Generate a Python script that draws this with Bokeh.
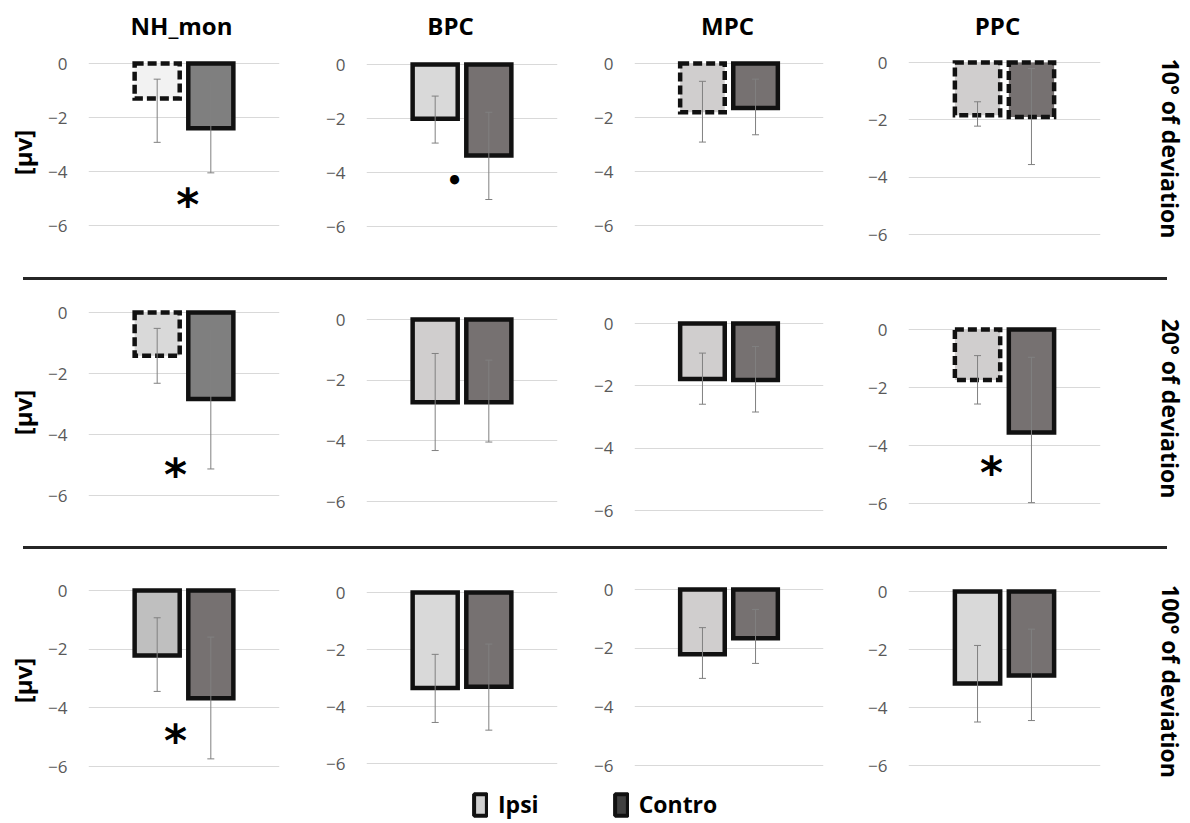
from bokeh.plotting import figure
from bokeh.layouts import column, row
from bokeh.models import Range1d, FixedTicker, Legend, LegendItem, Spacer, Div
from bokeh.core.properties import value
from bokeh.embed import file_html
from bokeh.resources import INLINE

# ---------------- data ----------------
regions = ["NH_mon", "BPC", "MPC", "PPC"]
deviations = ["10° of deviation", "20° of deviation", "100° of deviation"]
series = ["Ipsi", "Contro"]
y_ticks = [0, -2, -4, -6]
unit_label = "[μv]"

# mean amplitude, rows = deviation, columns = region
ipsi_mean = [[-1.30, -2.01, -1.81, -1.84],
             [-1.42, -2.73, -1.78, -1.74],
             [-2.22, -3.35, -2.21, -3.17]]
contro_mean = [[-2.40, -3.37, -1.65, -1.90],
               [-2.84, -2.73, -1.81, -3.55],
               [-3.67, -3.31, -1.66, -2.90]]
# error bar ends
ipsi_err_top = [[-0.58, -1.17, -0.66, -1.37],
                [-0.52, -1.12, -0.95, -0.90],
                [-0.93, -2.17, -1.30, -1.86]]
ipsi_err_bottom = [[-2.92, -2.91, -2.91, -2.22],
                   [-2.32, -4.32, -2.59, -2.57],
                   [-3.44, -4.56, -3.03, -4.50]]
contro_err_top = [[-0.66, -1.77, -0.58, -0.21],
                  [-0.55, -1.34, -0.74, -0.96],
                  [-1.59, -1.81, -0.68, -1.30]]
contro_err_bottom = [[-4.05, -5.00, -2.64, -3.56],
                     [-5.13, -4.04, -2.84, -5.97],
                     [-5.74, -4.83, -2.52, -4.45]]

# significance marks
sig_row = [0, 0, 1, 1, 2]
sig_col = [0, 1, 0, 3, 0]
sig_text = ["*", "•", "*", "*", "*"]
sig_x = [0.57, 0.36, 0.34, 0.26, 0.34]
sig_y = [-4.96, -4.30, -5.07, -4.70, -4.89]

# ---------------- styles ----------------
ipsi_dashed = [[True, False, True, True],
               [True, False, False, True],
               [False, False, False, False]]
contro_dashed = [[False, False, False, True],
                 [False, False, False, False],
                 [False, False, False, False]]
ipsi_fill = [["#f2f2f2", "#d9d9d9", "#d0cece", "#d0cece"],
             ["#d9d9d9", "#d0cece", "#d0cece", "#d0cece"],
             ["#bfbfbf", "#d9d9d9", "#d0cece", "#d9d9d9"]]
contro_fill = [["#7f7f7f", "#767171", "#767171", "#767171"],
               ["#7f7f7f", "#767171", "#767171", "#767171"],
               ["#767171", "#767171", "#767171", "#767171"]]

FONT = "Open Sans"

# ---------------- layout geometry (page pixels) ----------------
TOTAL_W = 1190
TOTAL_H = 821
HEAD_H = 46
ROW_TOP = [46, 280, 549]
ROW_H = [231, 266, 232]
FRAME_T = [52, 304, 581]
FRAME_B = [252, 520, 779]
ZERO_PX = [[63, 64, 63, 62], [312, 319, 323, 329], [590, 592, 589, 591]]
SIX_PX = [[225, 226, 225, 234], [495, 501, 510, 503], [766, 763, 765, 765]]
FIG_X = [0, 300, 585, 855, 1115, 1190]
FRAME_L = [88, 366, 634, 908]
FRAME_W = [191, 191, 189, 192]
TITLE_CX = [181, 450, 727, 997]
TITLE_CY = 25
LABEL_CY = [148, 408, 681]
LABEL_CX = 1170
SEP_X = (23, 1167)
LEGEND_TOP = 781
BAR_W = 0.84
X_RANGE = (-1.28, 2.28)


def row_fig(r, width, left, right, x_range, y_range):
    return figure(width=width, height=ROW_H[r], output_backend="svg",
                  toolbar_location=None, x_range=x_range, y_range=y_range,
                  min_border_left=left, min_border_right=right,
                  min_border_top=FRAME_T[r] - ROW_TOP[r],
                  min_border_bottom=ROW_TOP[r] + ROW_H[r] - FRAME_B[r],
                  outline_line_color=None, background_fill_color="white",
                  border_fill_color="white")


def blank_fig(width, height, x_range, y_range):
    f = figure(width=width, height=height, output_backend="svg",
               toolbar_location=None, x_range=x_range, y_range=y_range,
               min_border=0, outline_line_color=None,
               background_fill_color="white", border_fill_color="white")
    f.axis.visible = False
    f.grid.visible = False
    return f


def panel(r, c):
    k = (SIX_PX[r][c] - ZERO_PX[r][c]) / 6.0
    y0 = -(FRAME_B[r] - ZERO_PX[r][c]) / k
    y1 = (ZERO_PX[r][c] - FRAME_T[r]) / k
    width = FIG_X[c + 1] - FIG_X[c]
    left = FRAME_L[c] - FIG_X[c]
    p = row_fig(r, width, left, width - left - FRAME_W[c],
                Range1d(*X_RANGE), Range1d(y0, y1))
    p.xaxis.visible = False
    p.xgrid.visible = False
    p.yaxis.ticker = FixedTicker(ticks=y_ticks)
    p.yaxis.axis_line_color = None
    p.yaxis.major_tick_line_color = None
    p.yaxis.minor_tick_line_color = None
    p.yaxis.major_tick_out = 0
    p.yaxis.major_tick_in = 0
    p.yaxis.major_label_text_color = "#595959"
    p.yaxis.major_label_text_font = FONT
    p.yaxis.major_label_text_font_size = "17px"
    p.yaxis.major_label_standoff = 21
    p.ygrid.grid_line_color = "#d9d9d9"
    p.ygrid.grid_line_width = 1
    if c == 0:
        p.yaxis.axis_label = unit_label
        p.yaxis.axis_label_text_font = FONT
        p.yaxis.axis_label_text_font_size = "24px"
        p.yaxis.axis_label_text_font_style = "bold"
        p.yaxis.axis_label_text_color = "black"
        p.yaxis.axis_label_standoff = 6

    means = [ipsi_mean[r][c], contro_mean[r][c]]
    tops = [ipsi_err_top[r][c], contro_err_top[r][c]]
    bots = [ipsi_err_bottom[r][c], contro_err_bottom[r][c]]
    fills = [ipsi_fill[r][c], contro_fill[r][c]]
    dashed = [ipsi_dashed[r][c], contro_dashed[r][c]]
    for i, name in enumerate(series):
        p.vbar(x=[i], top=[0], bottom=[means[i]], width=BAR_W,
               fill_color=fills[i], line_color="#111111", line_width=4.5,
               line_dash="9 4" if dashed[i] else "solid", line_join="miter")
    for i, name in enumerate(series):
        p.segment(x0=[i], y0=[tops[i]], x1=[i], y1=[bots[i]],
                  line_color="#808080", line_width=1)
        p.scatter(x=[i, i], y=[tops[i], bots[i]], marker="dash", size=7,
                  line_color="#808080", line_width=1)
    for j in range(len(sig_text)):
        if sig_row[j] == r and sig_col[j] == c:
            big = sig_text[j] == "*"
            p.text(x=[sig_x[j]], y=[sig_y[j]], text=[sig_text[j]],
                   text_font=value("DejaVu Sans"),
                   text_font_size="44px" if big else "26px",
                   text_font_style="bold", text_color="black",
                   text_align="center", text_baseline="middle",
                   y_offset=7 if big else 0)
    return p


def row_label(r):
    width = FIG_X[5] - FIG_X[4]
    p = row_fig(r, width, 0, 0, Range1d(FIG_X[4], FIG_X[5]),
                Range1d(FRAME_B[r], FRAME_T[r]))
    p.axis.visible = False
    p.grid.visible = False
    p.text(x=[LABEL_CX], y=[LABEL_CY[r]], text=[deviations[r]], angle=-1.5708,
           text_font=value(FONT), text_font_size="23px", text_font_style="bold",
           text_color="black", text_align="center", text_baseline="middle")
    return p


def separator():
    d = Div(text="", width=SEP_X[1] - SEP_X[0], height=3, margin=0,
            styles={"background-color": "#262626", "padding": "0",
                    "overflow": "hidden", "font-size": "0", "line-height": "0"})
    return row(Spacer(width=SEP_X[0], height=3, margin=0), d, margin=0)


# header with column titles
head = blank_fig(TOTAL_W, HEAD_H, Range1d(0, TOTAL_W), Range1d(HEAD_H, 0))
head.text(x=TITLE_CX, y=[TITLE_CY] * len(regions), text=regions,
          text_font=value(FONT), text_font_size="24px", text_font_style="bold",
          text_color="black", text_align="center", text_baseline="middle")

items = [head]
for r in range(3):
    items.append(row(*([panel(r, c) for c in range(4)] + [row_label(r)])))
    if r < 2:
        items.append(separator())

# legend strip
lg = blank_fig(TOTAL_W, TOTAL_H - LEGEND_TOP, Range1d(0, 1), Range1d(0, 1))
r_i = lg.vbar(x=[0], top=[0], bottom=[ipsi_mean[0][0]], width=0.1,
              fill_color="#d0d0d0", line_color="#111111", line_width=4)
r_c = lg.vbar(x=[0], top=[0], bottom=[contro_mean[0][0]], width=0.1,
              fill_color="#404040", line_color="#111111", line_width=4)
r_i.visible = False
r_c.visible = False
legend = Legend(items=[LegendItem(label=series[0], renderers=[r_i]),
                       LegendItem(label=series[1], renderers=[r_c])],
                location=(472, 1), orientation="horizontal",
                padding=0, margin=0, spacing=74, glyph_width=16, glyph_height=27,
                label_standoff=10, label_text_font=FONT,
                label_text_font_size="23px", label_text_font_style="bold",
                label_text_color="black", border_line_color=None,
                background_fill_alpha=0, click_policy="none")
lg.add_layout(legend)
items.append(lg)

layout = column(*items)
open("out.html", "w").write(file_html(layout, INLINE))
